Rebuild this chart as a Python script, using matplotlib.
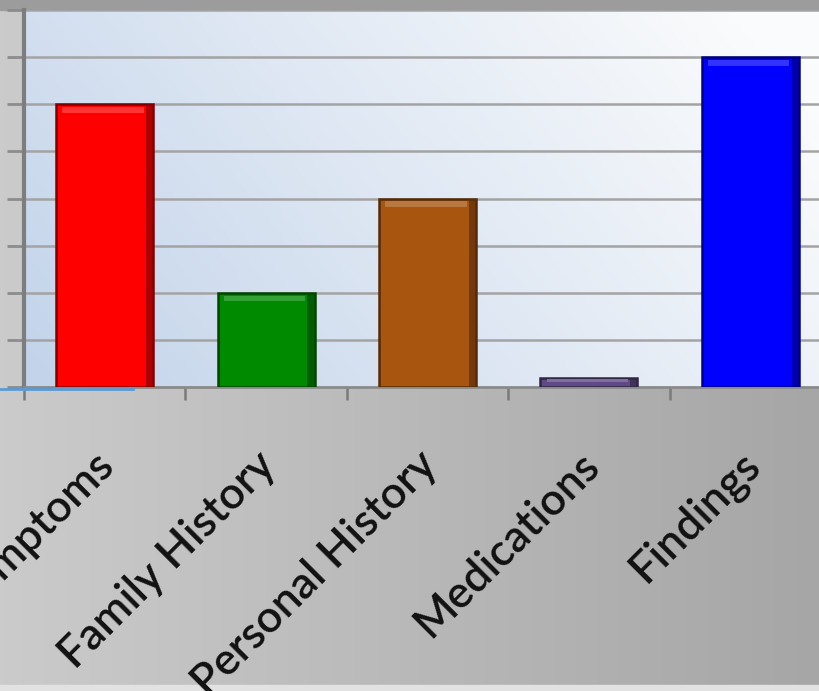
import numpy as np
import matplotlib
matplotlib.use("Agg")
import matplotlib.pyplot as plt
from matplotlib.colors import to_rgb

# Data
categories = ["Symptoms", "Family History", "Personal History", "Medications", "Findings"]
values = [6, 2, 4, 0.2, 7]
bar_colors = ["#ff0000", "#008a00", "#a8560f", "#5f4a86", "#0000ff"]
y_ticks = [0, 1, 2, 3, 4, 5, 6, 7, 8]

W, H = 819, 691
fig = plt.figure(figsize=(W / 100, H / 100), dpi=100)

# Grey gradient backdrop behind the chart
bg = fig.add_axes([0, 0, 1, 1], zorder=-10)
bg.set_axis_off()
gx = np.linspace(0, 1, 256)
c0 = np.array(to_rgb("#cbcbcb"))
c1 = np.array(to_rgb("#a6a6a6"))
grad = c0[None, None, :] * (1 - gx)[None, :, None] + c1[None, None, :] * gx[None, :, None]
grad = np.repeat(grad, 4, axis=0)
bg.imshow(grad, extent=[0, 1, 0, 1], aspect="auto", transform=bg.transAxes)
bg.axhspan(0.986, 1.0, color="#9c9c9c", transform=bg.transAxes)
bg.axhspan(0.0, 0.008, color="#e2e2e2", transform=bg.transAxes)
bg.set_xlim(0, 1)
bg.set_ylim(0, 1)

# Plot area
left_px, right_px, top_px, bot_px = 24, 831, 10, 387
ax = fig.add_axes([left_px / W, (H - bot_px) / H, (right_px - left_px) / W, (bot_px - top_px) / H])
ax.set_facecolor("none")

# Diagonal blue-to-white fill of the plot area
nx, ny = 200, 100
xx, yy = np.meshgrid(np.linspace(0, 1, nx), np.linspace(1, 0, ny))
t = np.clip(0.8 * xx + 0.3 * yy, 0, 1)
p0 = np.array(to_rgb("#c2d3ea"))
p1 = np.array(to_rgb("#fafbfc"))
fill = p0[None, None, :] * (1 - t)[..., None] + p1[None, None, :] * t[..., None]
ax.imshow(fill, extent=[0, 1, 0, 1], aspect="auto", transform=ax.transAxes, zorder=0)

x = np.arange(len(categories))
ax.set_xlim(-0.5, len(categories) - 0.5)
ax.set_ylim(y_ticks[0], y_ticks[-1])

# Horizontal gridlines
for yv in y_ticks[1:]:
    ax.axhline(yv, color="#a3a3a3", lw=1.8, zorder=1)

# Bars with a bevelled look
bw = 0.6
def shade(c, f):
    c = np.array(to_rgb(c))
    return tuple(np.clip(c * f, 0, 1))

def tint(c, f):
    c = np.array(to_rgb(c))
    return tuple(np.clip(c + (1 - c) * f, 0, 1))

for xi, v, c in zip(x, values, bar_colors):
    ax.bar(xi, v, width=bw, color=c, edgecolor=shade(c, 0.5), linewidth=1.8, zorder=3)
    # darker right-hand edge
    ax.bar(xi + bw / 2 - 0.022, v, width=0.044, color=shade(c, 0.55), linewidth=0, zorder=4, alpha=0.7)
    # light top bevel
    band = min(0.12, v * 0.3)
    ax.bar(xi - 0.01, band, bottom=v - band * 1.5, width=bw * 0.84, color=tint(c, 0.2), linewidth=0, zorder=4)

# Axes lines and ticks
for s in ["top", "right"]:
    ax.spines[s].set_visible(False)
ax.spines["left"].set_color("#7d7d7d")
ax.spines["left"].set_linewidth(3)
ax.spines["bottom"].set_color("#8a8a8a")
ax.spines["bottom"].set_linewidth(2)
ax.set_yticks(y_ticks)
ax.tick_params(axis="y", length=12, width=2, color="#8c8c8c", labelleft=False)
ax.set_xticks(np.arange(len(categories) + 1) - 0.5)
ax.tick_params(axis="x", length=9, width=1.8, color="#7a7a7a", labelbottom=False, direction="out")

# Category labels, rotated
for xi, lab in zip(x, categories):
    ax.annotate(lab, xy=(xi, 0), xycoords="data", xytext=(-8, -41), textcoords="offset points",
                rotation=45, rotation_mode="anchor", ha="right", va="top",
                fontsize=32, family="Lato", fontweight="semibold", color="#111111",
                annotation_clip=False)

# Blue selection line along the lower-left corner
fig.add_artist(plt.Line2D([0, 133 / W], [(H - 389) / H] * 2, color="#5b9bd5", lw=2))

fig.savefig("out.png", dpi=100)
